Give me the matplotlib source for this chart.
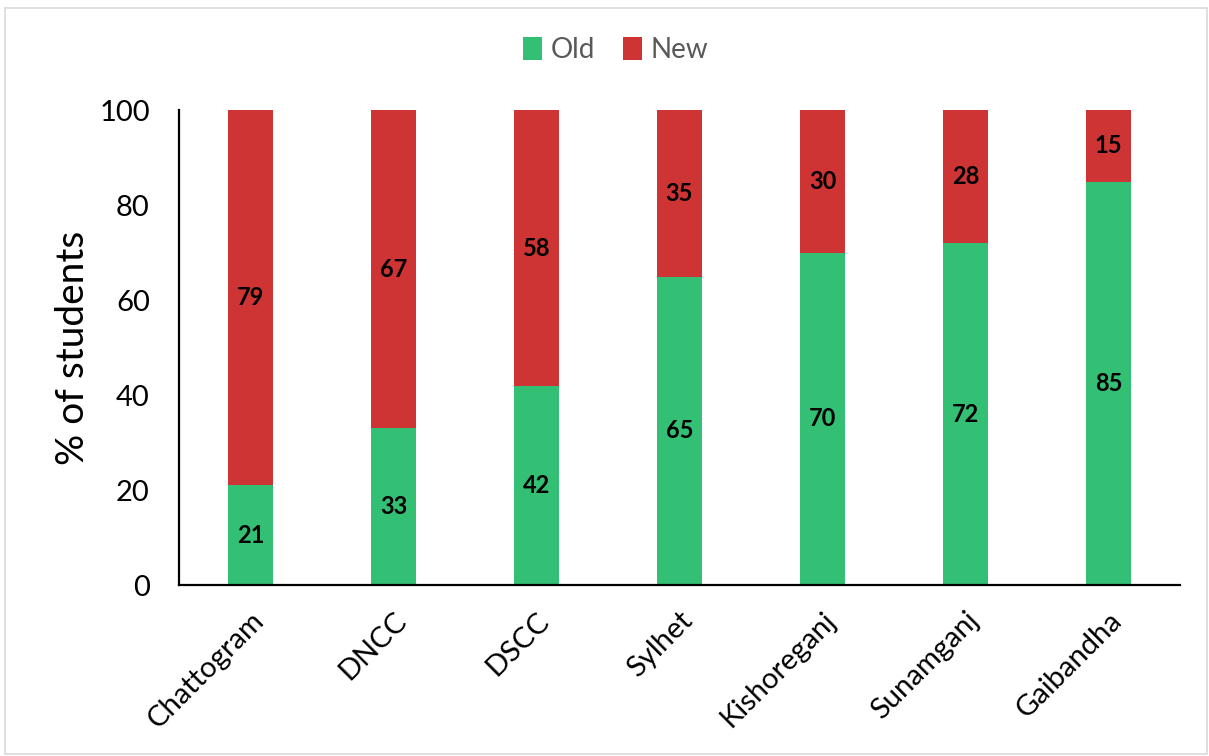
import matplotlib.pyplot as plt
from matplotlib.patches import Rectangle

# share of students by district, old vs new
districts = ["Chattogram", "DNCC", "DSCC", "Sylhet", "Kishoreganj", "Sunamganj", "Gaibandha"]
old_pct = [21, 33, 42, 65, 70, 72, 85]
new_pct = [79, 67, 58, 35, 30, 28, 15]
y_ticks = [0, 20, 40, 60, 80, 100]

GREEN = "#33BF74"
RED = "#CF3434"

plt.rcParams["font.family"] = ["Lato", "DejaVu Sans"]

fig = plt.figure(figsize=(12.09, 7.56), dpi=100)
ax = fig.add_axes([0.148, 0.226, 0.828, 0.628])

x = range(len(districts))
bars_old = ax.bar(x, old_pct, width=0.31, color=GREEN, label="Old")
bars_new = ax.bar(x, new_pct, width=0.31, bottom=old_pct, color=RED, label="New")

for b, v in zip(bars_old, old_pct):
    ax.text(b.get_x() + b.get_width() / 2, v / 2, str(v), ha="center", va="center",
            fontsize=17, fontweight="bold", color="black")
for b, lo, v in zip(bars_new, old_pct, new_pct):
    ax.text(b.get_x() + b.get_width() / 2, lo + v / 2, str(v), ha="center", va="center",
            fontsize=17, fontweight="bold", color="black")

ax.set_xlim(-0.5, len(districts) - 0.5)
ax.set_ylim(0, 100)
ax.set_yticks(y_ticks)
ax.set_xticks(list(x))
ax.set_xticklabels(districts, rotation=45, ha="right", rotation_mode="anchor")
ax.tick_params(axis="both", labelsize=21, length=0)
ax.tick_params(axis="y", pad=21)
ax.tick_params(axis="x", pad=16)
ax.set_ylabel("% of students", fontsize=28, labelpad=6)

for side in ("top", "right"):
    ax.spines[side].set_visible(False)
for side in ("left", "bottom"):
    ax.spines[side].set_linewidth(1.6)
    ax.spines[side].set_color("black")

ax.legend(loc="center", bbox_to_anchor=(0.436, 1.127), ncol=2, frameon=False,
          fontsize=20, labelcolor="#595959", handlelength=0.7, handleheight=0.9,
          handletextpad=0.3, columnspacing=1.0)

# thin grey frame around the whole chart area
fig.patches.append(Rectangle((0.004, 0.002), 0.994, 0.988, transform=fig.transFigure,
                             fill=False, edgecolor="#D9D9D9", linewidth=1.2))

fig.savefig("out.png", dpi=100)
